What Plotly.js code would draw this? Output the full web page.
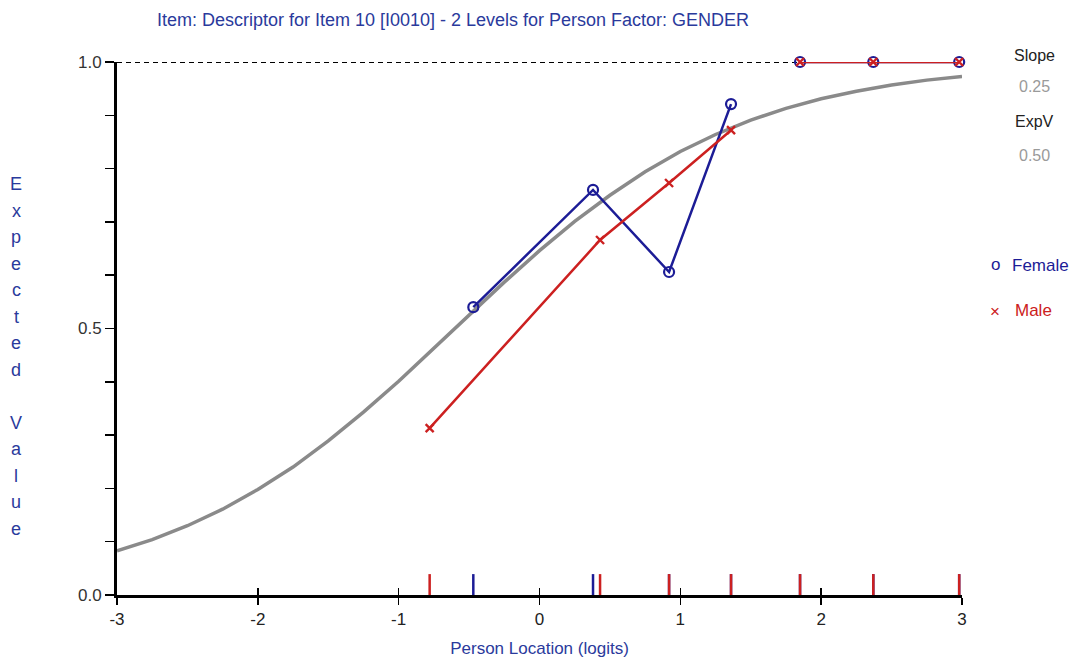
<!DOCTYPE html>
<html>
<head>
<meta charset="utf-8">
<script src="https://cdn.plot.ly/plotly-3.0.1.min.js"></script>
<style>html,body{margin:0;padding:0;background:#fff;}#chart{width:1076px;height:672px;}</style>
</head>
<body>
<div id="chart"></div>
<script>
// ---- data ----
const curveX = [-3,-2.75,-2.5,-2.25,-2,-1.75,-1.5,-1.25,-1,-0.75,-0.5,-0.25,0,0.25,0.5,0.75,1,1.25,1.5,1.75,2,2.25,2.5,2.75,3];
const curveY = [0.083,0.104,0.130,0.161,0.198,0.240,0.289,0.343,0.401,0.463,0.525,0.587,0.646,0.701,0.750,0.794,0.832,0.864,0.891,0.913,0.931,0.945,0.957,0.966,0.973];
// class intervals with non-extreme scores
const femaleX = [-0.47,0.38,0.92,1.36];
const femaleY = [0.540,0.760,0.606,0.921];
const maleX = [-0.78,0.43,0.92,1.36];
const maleY = [0.313,0.666,0.773,0.872];
// class intervals with extreme (maximum) scores
const femaleExtX = [1.85,2.37,2.98];
const femaleExtY = [1.0,1.0,1.0];
const maleExtX = [1.85,2.37,2.98];
const maleExtY = [1.0,1.0,1.0];
const xTicks = [-3,-2,-1,0,1,2,3];
const yTicks = [0,0.1,0.2,0.3,0.4,0.5,0.6,0.7,0.8,0.9,1.0];
const yTickText = ['0.0','','','','','0.5','','','','','1.0'];
const titleText = 'Item: Descriptor for Item 10 [I0010] - 2 Levels for Person Factor: GENDER';
const xTitle = 'Person Location (logits)';
const yTitle = 'Expected Value';
const sideLabels = ['Slope','0.25','ExpV','0.50'];
const groups = ['Female','Male'];

const FONT = '"Liberation Sans Narrow", "Arial Narrow", "Liberation Sans", Arial, sans-serif';
const NAVY = '#1c1c96';
const RED = '#cc2020';
const TXT_BLUE = '#2a3a9c';

// plot area pixel frame helpers for label placement
const L = 117, R = 962, T = 62, B = 595;
const px = p => (p - L) / (R - L);
const py = p => (B - p) / (B - T);
const rugH = 9 / (B - T);

const femMarker = {symbol: 'circle-open', size: 10, color: NAVY, line: {width: 2.2, color: NAVY}};
const maleMarker = {symbol: 'x-thin-open', size: 8, color: RED, line: {width: 2.4, color: RED}};

const traces = [
  {x: [-3, 3], y: [null, null], xaxis: 'x2', yaxis: 'y', mode: 'lines', hoverinfo: 'skip'},
  {x: curveX, y: curveY, mode: 'lines', line: {color: '#8a8a8a', width: 3.5}, hoverinfo: 'skip', cliponaxis: false},
  {x: femaleX, y: femaleY, mode: 'lines+markers', name: groups[0], line: {color: NAVY, width: 2.5}, marker: femMarker, cliponaxis: false},
  {x: femaleExtX, y: femaleExtY, mode: 'lines+markers', name: groups[0], line: {color: NAVY, width: 2.5}, marker: femMarker, cliponaxis: false},
  {x: maleX, y: maleY, mode: 'lines+markers', name: groups[1], line: {color: RED, width: 2.5}, marker: maleMarker, cliponaxis: false},
  {x: maleExtX, y: maleExtY, mode: 'lines+markers', name: groups[1], line: {color: RED, width: 2.5}, marker: maleMarker, cliponaxis: false},
  {x: femaleX.concat(femaleExtX), y: femaleX.concat(femaleExtX).map(() => rugH), mode: 'markers', hoverinfo: 'skip', cliponaxis: false,
   marker: {symbol: 'line-ns-open', size: 17, color: NAVY, line: {width: 2.5, color: NAVY}}},
  {x: maleX.concat(maleExtX), y: maleX.concat(maleExtX).map(() => rugH), mode: 'markers', hoverinfo: 'skip', cliponaxis: false,
   marker: {symbol: 'line-ns-open', size: 17, color: RED, line: {width: 2.5, color: RED}}}
];

const annotations = [];
// vertical stacked y-axis title
const letters = yTitle.split('');
const yTop = 184, step = 26.5;
letters.forEach((ch, i) => {
  if (ch === ' ') return;
  annotations.push({xref: 'paper', yref: 'paper', x: px(16), y: py(yTop + i * step), text: ch,
    showarrow: false, xanchor: 'center', yanchor: 'middle', font: {family: FONT, size: 18, color: TXT_BLUE}});
});
// side labels
const sideY = [55, 86, 122, 155];
const sideC = ['#222', '#9a9a9a', '#222', '#9a9a9a'];
sideLabels.forEach((s, i) => {
  annotations.push({xref: 'paper', yref: 'paper', x: px(1034), y: py(sideY[i]), text: s, showarrow: false,
    xanchor: 'center', yanchor: 'middle', font: {family: FONT, size: 16, color: sideC[i]}});
});
// legend-like labels
annotations.push({xref: 'paper', yref: 'paper', x: px(995), y: py(264), text: 'o', showarrow: false,
  xanchor: 'center', yanchor: 'middle', font: {family: FONT, size: 17, color: NAVY}});
annotations.push({xref: 'paper', yref: 'paper', x: px(1010), y: py(265), text: groups[0], showarrow: false,
  xanchor: 'left', yanchor: 'middle', font: {family: FONT, size: 17, color: NAVY}});
annotations.push({xref: 'paper', yref: 'paper', x: px(995), y: py(311), text: '×', showarrow: false,
  xanchor: 'center', yanchor: 'middle', font: {family: FONT, size: 17, color: RED}});
annotations.push({xref: 'paper', yref: 'paper', x: px(1013), y: py(310), text: groups[1], showarrow: false,
  xanchor: 'left', yanchor: 'middle', font: {family: FONT, size: 17, color: RED}});

const layout = {
  width: 1076, height: 672,
  margin: {l: L, r: 1076 - R, t: T, b: 672 - B, pad: 0},
  paper_bgcolor: '#ffffff', plot_bgcolor: '#ffffff',
  showlegend: false,
  font: {family: FONT, size: 15, color: '#333'},
  title: {text: titleText, xref: 'container', yref: 'container', x: 453 / 1076, y: 1 - 20 / 672,
          xanchor: 'center', yanchor: 'middle', font: {family: FONT, size: 18, color: TXT_BLUE}},
  xaxis: {range: [-3, 3], tickvals: xTicks, ticktext: xTicks.map(String), ticks: 'outside', ticklen: 7,
          tickwidth: 1.5, tickcolor: '#000', showgrid: false, zeroline: false, showline: true,
          linecolor: '#000', linewidth: 3, tickfont: {family: FONT, size: 17, color: '#222'},
          title: {text: xTitle, standoff: 14, font: {family: FONT, size: 17, color: TXT_BLUE}}},
  xaxis2: {range: [-3, 3], overlaying: 'x', anchor: 'y', side: 'bottom', tickvals: xTicks, ticks: 'inside',
           ticklen: 7, tickwidth: 1.5, tickcolor: '#000', showticklabels: false, showgrid: false,
           zeroline: false, showline: false},
  yaxis: {range: [0, 1], tickvals: yTicks, ticktext: yTickText, ticks: 'outside', ticklen: 9, tickwidth: 1.5,
          tickcolor: '#000', showgrid: false, zeroline: false, showline: true, linecolor: '#000', linewidth: 3,
          tickfont: {family: FONT, size: 17, color: '#333'}},
  shapes: [
    {type: 'line', xref: 'x', yref: 'y', x0: -3, x1: 3, y0: 1, y1: 1, layer: 'below',
     line: {color: '#000', width: 2, dash: '5px,4px'}}
  ],
  annotations: annotations
};

Plotly.newPlot('chart', traces, layout, {displayModeBar: false, staticPlot: true});
</script>
</body>
</html>
